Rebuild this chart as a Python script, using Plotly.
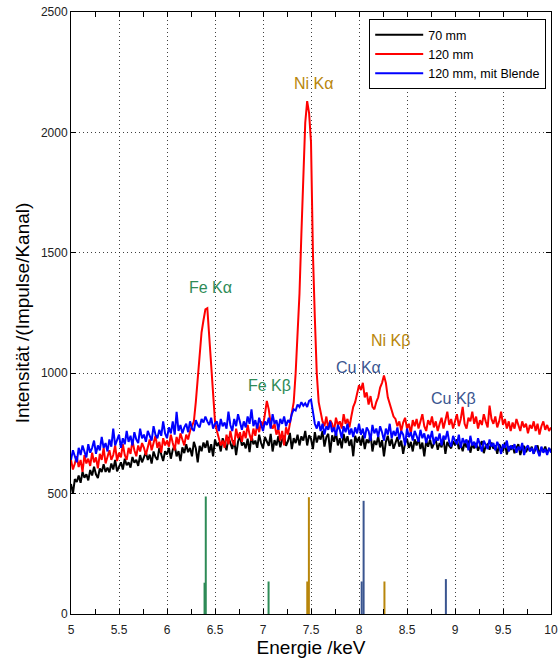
import numpy as np
import plotly.graph_objects as go

# channel energies: 5.00 ... 10.00 keV, 0.02 keV per channel
e_start = 5.0
e_step = 0.02

# 70 mm (black)
counts_70 = [
    540, 500, 560, 548, 575, 545, 590, 566, 580, 555,
    598, 575, 612, 580, 565, 604, 590, 622, 590, 608,
    588, 625, 600, 640, 592, 615, 630, 600, 645, 618,
    630, 608, 652, 628, 640, 615, 660, 630, 648, 672,
    640, 662, 625, 675, 652, 640, 690, 658, 635, 676,
    662, 690, 645, 682, 700, 655, 676, 635, 692, 668,
    705, 672, 690, 655, 715, 688, 630, 698, 676, 712,
    690, 720, 670, 705, 655, 725, 698, 712, 675, 730,
    700, 680, 735, 708, 685, 722, 660, 715, 740, 700,
    712, 688, 728, 672, 740, 705, 720, 690, 745, 710,
    688, 735, 712, 698, 748, 675, 722, 700, 738, 692,
    725, 740, 698, 718, 752, 685, 730, 710, 745, 700,
    738, 720, 760, 700, 742, 728, 685, 755, 712, 740,
    725, 760, 695, 735, 748, 670, 742, 715, 755, 700,
    730, 688, 748, 710, 738, 698, 725, 655, 740, 712,
    735, 700, 742, 685, 725, 710, 748, 675, 720, 702,
    738, 692, 722, 655, 715, 740, 698, 728, 686, 712,
    735, 695, 720, 665, 710, 728, 690, 715, 675, 725,
    700, 730, 685, 712, 655, 720, 695, 725, 688, 708,
    722, 682, 710, 692, 730, 665, 715, 698, 688, 718,
    700, 725, 685, 705, 676, 712, 692, 720, 670, 705,
    688, 710, 678, 700, 718, 668, 698, 705, 682, 712,
    686, 700, 665, 705, 688, 676, 712, 662, 695, 682,
    700, 668, 690, 705, 660, 688, 698, 672, 692, 678,
    695, 666, 688, 700, 660, 690, 675, 695, 668, 685,
    680,
]

# 120 mm (red)
counts_120 = [
    640, 600, 625, 655, 610, 640, 590, 660, 625, 645,
    615, 670, 630, 650, 605, 665, 640, 690, 625, 655,
    680, 640, 660, 700, 635, 670, 650, 705, 660, 640,
    690, 665, 720, 680, 655, 700, 675, 710, 690, 660,
    700, 725, 680, 705, 740, 690, 715, 670, 730, 700,
    720, 695, 745, 710, 680, 735, 705, 750, 720, 700,
    745, 725, 760, 780, 800, 880, 990, 1100, 1170, 1220,
    1265, 1270, 1150, 1020, 890, 800, 760, 735, 700, 720,
    690, 745, 705, 760, 720, 700, 770, 730, 755, 715,
    760, 730, 785, 745, 720, 770, 740, 790, 755, 800,
    780, 830, 885, 850, 790, 770, 790, 745, 770, 720,
    760, 700, 775, 745, 790, 830, 880, 1000, 1150, 1330,
    1580, 1800, 2040, 2130, 2080, 1960, 1500, 1230, 1000, 880,
    840, 800, 780, 820, 770, 805, 790, 760, 815, 785,
    800, 770, 830, 790, 810, 775, 820, 860, 880, 920,
    950, 930, 960, 900, 920, 870, 905, 860, 850, 880,
    900, 940, 960, 990, 960, 900, 870, 850, 820, 810,
    780, 800, 760, 795, 815, 770, 790, 750, 805, 780,
    810, 770, 795, 830, 780, 760, 805, 785, 820, 775,
    800, 760, 790, 815, 770, 800, 840, 785, 810, 770,
    795, 830, 780, 810, 860, 790, 770, 815, 800, 840,
    790, 820, 770, 805, 785, 830, 800, 775, 865, 810,
    790, 820, 775, 800, 840, 785, 810, 770, 800, 760,
    795, 770, 810, 780, 760, 800, 775, 790, 750, 785,
    770, 800, 760, 790, 745, 780, 800, 765, 785, 760,
    775,
]

# 120 mm, mit Blende (blue)
counts_120_blende = [
    640, 680, 655, 630, 690, 660, 700, 675, 650, 705,
    670, 690, 720, 665, 700, 680, 735, 690, 710, 675,
    725, 695, 770, 700, 720, 745, 690, 730, 705, 760,
    715, 740, 700, 755, 725, 710, 770, 730, 745, 715,
    760, 735, 720, 780, 745, 730, 765, 740, 800, 750,
    730, 775, 750, 800, 745, 840, 760, 785, 750, 775,
    790, 755, 800, 770, 760, 805, 785, 775, 810, 795,
    820, 800, 785, 815, 770, 790, 800, 760, 810, 780,
    795, 770, 840, 785, 760, 810, 780, 830, 790, 765,
    800, 775, 820, 790, 850, 780, 805, 770, 815, 790,
    760, 800, 785, 815, 770, 830, 790, 805, 765, 810,
    790, 820, 780, 805, 795, 830, 850, 845, 870, 860,
    880, 865, 875, 860, 885, 890, 845, 790, 770, 800,
    760, 790, 745, 780, 765, 800, 755, 775, 740, 785,
    765, 730, 780, 755, 790, 745, 770, 735, 775, 750,
    790, 745, 770, 730, 775, 760, 720, 785, 750, 770,
    735, 780, 755, 720, 770, 745, 790, 730, 760, 740,
    775, 725, 760, 745, 700, 770, 735, 755, 720, 760,
    740, 715, 765, 730, 750, 710, 745, 725, 760, 705,
    735, 720, 750, 700, 740, 725, 760, 715, 695, 740,
    720, 705, 745, 690, 730, 710, 725, 680, 740, 700,
    715, 690, 730, 705, 675, 720, 700, 685, 725, 695,
    710, 680, 715, 695, 665, 705, 690, 720, 675, 700,
    685, 705, 670, 695, 680, 710, 660, 690, 700, 675,
    690, 665, 700, 680, 655, 695, 670, 685, 660, 690,
    670,
]

# reference line positions (keV) and heights
fe_lines_e = [6.391, 6.404, 7.058]
fe_lines_h = [130, 488, 135]
ni_lines_e = [7.461, 7.478, 8.265]
ni_lines_h = [135, 485, 135]
cu_lines_e = [8.028, 8.048, 8.905]
cu_lines_h = [135, 470, 145]

label_text = ["Fe K\u03b1", "Fe K\u03b2", "Ni K\u03b1", "Ni K\u03b2", "Cu K\u03b1", "Cu K\u03b2"]
label_x = [6.45, 7.07, 7.53, 8.33, 7.99, 8.98]
label_y = [1355, 950, 2205, 1135, 1025, 893]

FE_COL = "#2e8b57"
NI_COL = "#b8860b"
CU_COL = "#3a5590"
label_col = [FE_COL, FE_COL, NI_COL, NI_COL, CU_COL, CU_COL]

energy = np.round(e_start + e_step * np.arange(len(counts_70)), 2)

fig = go.Figure()

for name, ys, col in [("70 mm", counts_70, "black"),
                      ("120 mm", counts_120, "#ff0000"),
                      ("120 mm, mit Blende", counts_120_blende, "#0000ff")]:
    fig.add_trace(go.Scatter(x=energy, y=ys, mode="lines", name=name,
                             line=dict(color=col, width=2)))


def stems(es, hs):
    xs, ys = [], []
    for e, h in zip(es, hs):
        xs += [e, e, None]
        ys += [0, h, None]
    return xs, ys


for es, hs, col in [(fe_lines_e, fe_lines_h, FE_COL),
                    (ni_lines_e, ni_lines_h, NI_COL),
                    (cu_lines_e, cu_lines_h, CU_COL)]:
    sx, sy = stems(es, hs)
    fig.add_trace(go.Scatter(x=sx, y=sy, mode="lines", showlegend=False,
                             line=dict(color=col, width=2), hoverinfo="skip"))

for t, x, y, c in zip(label_text, label_x, label_y, label_col):
    fig.add_annotation(x=x, y=y, text=t, showarrow=False,
                       font=dict(family="Liberation Sans, Arial", size=16, color=c))

axis_common = dict(
    showline=True, linecolor="black", linewidth=1, mirror="ticks",
    ticks="inside", ticklen=5, tickcolor="black",
    showgrid=True, gridcolor="rgba(0,0,0,0.75)", griddash="1px,3px", gridwidth=1,
    zeroline=False, ticklabeloverflow="allow", automargin=False,
    tickfont=dict(family="Liberation Sans, Arial", size=12, color="#222"),
)

fig.update_xaxes(range=[5, 10], dtick=0.5, tick0=5,
                 minor=dict(ticks="inside", dtick=0.25, ticklen=5, tickcolor="black", showgrid=False),
                 title=dict(text="Energie /keV", standoff=4,
                            font=dict(family="Liberation Sans, Arial", size=19, color="black")),
                 ticklabelstandoff=5,
                 **axis_common)
fig.update_yaxes(range=[0, 2500], dtick=500,
                 title=dict(text="Intensität /(Impulse/Kanal)", standoff=6,
                            font=dict(family="Liberation Sans, Arial", size=19, color="black")),
                 **axis_common)

fig.update_layout(
    width=558, height=658,
    margin=dict(l=71, r=7, t=12, b=44),
    paper_bgcolor="white", plot_bgcolor="white",
    showlegend=True,
    legend=dict(x=0.99, y=0.988, xanchor="right", yanchor="top",
                bgcolor="white", bordercolor="black", borderwidth=1,
                font=dict(family="Liberation Sans, Arial", size=12.5, color="black"),
                itemwidth=48, tracegroupgap=0),
)

# drop the default 8px page margin so the figure fills the window exactly
fig.write_html("out.html", config={"displayModeBar": False},
               post_script="document.body.style.margin='0';")
